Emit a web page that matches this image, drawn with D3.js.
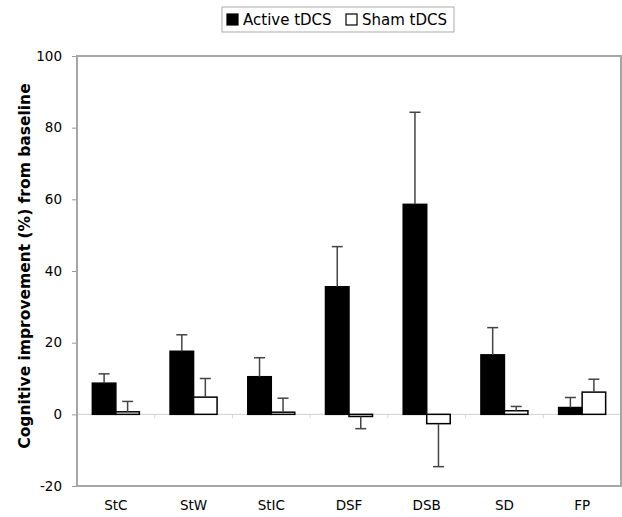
<!DOCTYPE html>
<html>
<head>
    <meta charset="utf-8">
    <title>tDCS cognitive improvement</title>
    <script src="https://cdnjs.cloudflare.com/ajax/libs/d3/7.8.5/d3.min.js"></script>
    <style>
        body { margin: 0; background: #fff; }
        text { font-family: 'DejaVu Sans', Verdana, sans-serif; fill: #000; }
    </style>
</head>
<body>
    <div id="chart"></div>

    <script>
//------------------------------------DATA--------------------------------
        var categories = ["StC", "StW", "StIC", "DSF", "DSB", "SD", "FP"];
        var seriesNames = ["Active tDCS", "Sham tDCS"];
        var activeValues = [8.7, 17.6, 10.5, 35.6, 58.6, 16.6, 1.9];
        var activeErrors = [2.6, 4.6, 5.3, 11.2, 25.7, 7.6, 2.8];
        var shamValues = [0.7, 4.8, 0.6, -0.6, -2.6, 1.0, 6.2];
        var shamErrors = [2.9, 5.2, 3.9, 3.4, 12.0, 1.2, 3.6];
        var yTicks = [-20, 0, 20, 40, 60, 80, 100];

//------------------------------------MAKES THE BOX--------------------------
        var W = 622, H = 517;
        var margin = { top: 56, right: 1, bottom: 31, left: 77 };
        var width = W - margin.left - margin.right,
            height = H - margin.top - margin.bottom;

        var svg = d3.select("#chart").append("svg")
            .attr("width", W)
            .attr("height", H);

        var g = svg.append("g")
            .attr("transform", "translate(" + margin.left + "," + margin.top + ")");

//------------------------------------SCALES--------------------------------
        var x0 = d3.scaleBand()
            .domain(categories)
            .range([0, width])
            .paddingInner(0.395)
            .paddingOuter(0.1975);

        var x1 = d3.scaleBand()
            .domain(seriesNames)
            .range([0, x0.bandwidth()]);

        var y = d3.scaleLinear()
            .domain([-20, 100])
            .range([height, 0]);

        var rows = [];
        categories.forEach(function (c, i) {
            rows.push({ cat: c, series: seriesNames[0], value: activeValues[i], err: activeErrors[i] });
            rows.push({ cat: c, series: seriesNames[1], value: shamValues[i], err: shamErrors[i] });
        });

//------------------------------------AXES--------------------------------
        // y axis ticks and labels (plain hyphen for the minus, like the original)
        g.append("g")
            .call(d3.axisLeft(y).tickValues(yTicks).tickSize(5).tickPadding(10)
                .tickFormat(function (d) { return String(d); }))
            .call(function (a) {
                a.select(".domain").remove();
                a.selectAll(".tick line").attr("stroke", "#999");
                a.selectAll(".tick text")
                    .style("font-size", "13.5px")
                    .style("font-family", "'DejaVu Sans', sans-serif")
                    .attr("fill", "#000");
            });

        // zero line
        g.append("line")
            .attr("x1", 0).attr("x2", width)
            .attr("y1", y(0)).attr("y2", y(0))
            .attr("stroke", "#cfcfcf")
            .attr("stroke-width", 1);

        // faint category separators on the zero line
        g.selectAll(".sep")
            .data(categories.slice(1))
            .enter()
            .append("line")
            .attr("x1", function (d) { return x0(d) - x0.step() * x0.paddingInner() / 2; })
            .attr("x2", function (d) { return x0(d) - x0.step() * x0.paddingInner() / 2; })
            .attr("y1", y(0))
            .attr("y2", y(0) + 4)
            .attr("stroke", "#d8d8d8");

        // x labels
        g.append("g")
            .attr("transform", "translate(0," + height + ")")
            .call(d3.axisBottom(x0).tickSize(0).tickPadding(14))
            .call(function (a) {
                a.select(".domain").remove();
                a.selectAll(".tick text")
                    .style("font-size", "13.5px")
                    .style("font-family", "'DejaVu Sans', sans-serif")
                    .attr("fill", "#000");
            });

//------------------------------------MAKES THE BARS--------------------------------
        var bars = g.selectAll(".bar")
            .data(rows)
            .enter()
            .append("g")
            .attr("transform", function (d) { return "translate(" + x0(d.cat) + ",0)"; });

        bars.append("rect")
            .attr("x", function (d) { return x1(d.series); })
            .attr("width", x1.bandwidth())
            .attr("y", function (d) { return y(Math.max(0, d.value)); })
            .attr("height", function (d) { return Math.abs(y(d.value) - y(0)); })
            .attr("fill", function (d) { return d.series === seriesNames[0] ? "#000" : "#fff"; })
            .attr("stroke", "#000")
            .attr("stroke-width", 1.5);

        // error bars: one sided, in direction of the value
        function errEnd(d) { return d.value >= 0 ? d.value + d.err : d.value - d.err; }

        bars.append("line")
            .attr("x1", function (d) { return x1(d.series) + x1.bandwidth() / 2; })
            .attr("x2", function (d) { return x1(d.series) + x1.bandwidth() / 2; })
            .attr("y1", function (d) { return y(d.value); })
            .attr("y2", function (d) { return y(errEnd(d)); })
            .attr("stroke", "#444")
            .attr("stroke-width", 1.5);

        bars.append("line")
            .attr("x1", function (d) { return x1(d.series) + x1.bandwidth() / 2 - 5.5; })
            .attr("x2", function (d) { return x1(d.series) + x1.bandwidth() / 2 + 5.5; })
            .attr("y1", function (d) { return y(errEnd(d)); })
            .attr("y2", function (d) { return y(errEnd(d)); })
            .attr("stroke", "#444")
            .attr("stroke-width", 1.5);

        // plot frame
        g.append("rect")
            .attr("x", 0).attr("y", 0)
            .attr("width", width).attr("height", height)
            .attr("fill", "none")
            .attr("stroke", "#a6a6a6")
            .attr("stroke-width", 2);

//------------------------------------Y TITLE--------------------------------
        svg.append("text")
            .attr("transform", "translate(30,266) rotate(-90)")
            .attr("text-anchor", "middle")
            .style("font-size", "15.5px")
            .style("font-weight", "bold")
            .text("Cognitive improvement (%) from baseline");

//------------------------------------LEGEND--------------------------------
        var legend = svg.append("g").attr("transform", "translate(222,7)");
        legend.append("rect")
            .attr("width", 232).attr("height", 25)
            .attr("fill", "#fff")
            .attr("stroke", "#aaa")
            .attr("stroke-width", 1);

        var legendX = [5, 124];
        seriesNames.forEach(function (s, i) {
            legend.append("rect")
                .attr("x", legendX[i]).attr("y", 7)
                .attr("width", 11).attr("height", 11)
                .attr("fill", i === 0 ? "#000" : "#fff")
                .attr("stroke", "#000")
                .attr("stroke-width", 1.2);
            legend.append("text")
                .attr("x", legendX[i] + 16)
                .attr("y", 18)
                .style("font-size", "15px")
                .text(s);
        });
    </script>
</body>
</html>
